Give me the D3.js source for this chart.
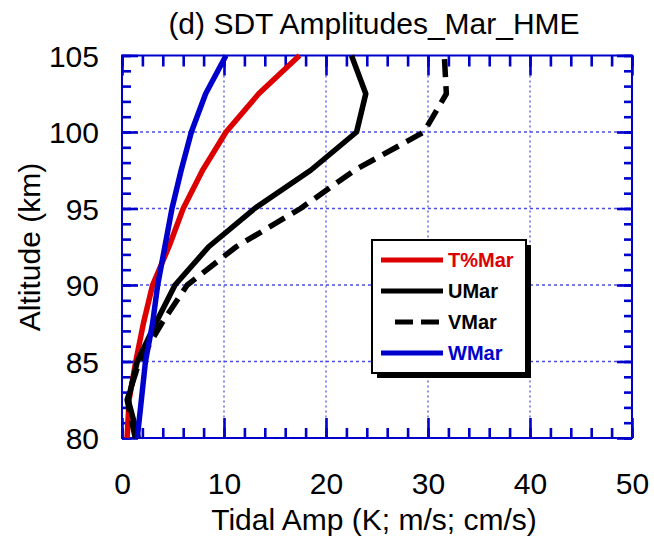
<!DOCTYPE html>
<html>
<head>
<meta charset="utf-8">
<script src="https://cdn.jsdelivr.net/npm/d3@7/dist/d3.min.js"></script>
<style>
  html, body { margin: 0; padding: 0; background: #fff; }
  svg { display: block; font-family: "Liberation Sans", Arial, Helvetica, sans-serif; }
</style>
</head>
<body>
<svg id="chart" width="654" height="542"></svg>
<script>
// Altitude levels (km) and SDT amplitudes for March
const altitude = [80, 82.5, 85, 87.5, 90, 92.5, 95, 97.5, 100, 102.5, 105];
const tPct = [0.5, 0.7, 1.35, 2.1, 3.0, 4.6, 6.0, 7.9, 10.2, 13.4, 17.4];   // T (%)
const uAmp = [1.6, 0.6, 1.5, 3.3, 5.2, 8.5, 13.0, 18.5, 23.0, 23.9, 22.5];  // U (m/s)
const vAmp = [1.3, 0.5, 1.7, 3.9, 6.4, 11.2, 17.5, 22.8, 29.6, 31.8, 31.6]; // V (m/s)
const wAmp = [1.5, 1.9, 2.3, 3.0, 3.5, 4.2, 4.9, 5.8, 6.8, 8.2, 10.2];     // W (cm/s)

const seriesNames = ["T%Mar", "UMar", "VMar", "WMar"];
const seriesValues = [tPct, uAmp, vAmp, wAmp];

const xMajorTicks = [0, 10, 20, 30, 40, 50];
const xMinorTicks = d3.range(0, 51, 2);
const yMajorTicks = [80, 85, 90, 95, 100, 105];
const yMinorTicks = d3.range(80, 106, 1);

const titleText = "(d) SDT Amplitudes_Mar_HME";
const xTitle = "Tidal Amp (K; m/s; cm/s)";
const yTitle = "Altitude (km)";

// Styling
const axisBlue = "#0000cc";
const gridBlue = "#3a3ae0";
const colors = { "T%Mar": "#dd0000", "UMar": "#000000", "VMar": "#000000", "WMar": "#0000cc" };
const dashes = { "T%Mar": null, "UMar": null, "VMar": "18,9", "WMar": null };
const fontSize = 30;

const svg = d3.select("#chart");
const plotLeft = 122, plotRight = 632, plotTop = 55.5, plotBottom = 438;

const x = d3.scaleLinear().domain([0, 50]).range([plotLeft, plotRight]);
const y = d3.scaleLinear().domain([80, 105]).range([plotBottom, plotTop]);

// Title
svg.append("text")
  .attr("x", 374).attr("y", 34)
  .attr("text-anchor", "middle")
  .attr("font-size", fontSize)
  .text(titleText);

// Dotted grid at major ticks
const grid = svg.append("g");
grid.selectAll("line.vg").data(xMajorTicks.slice(1, -1)).join("line")
  .attr("x1", d => x(d)).attr("x2", d => x(d))
  .attr("y1", plotTop).attr("y2", plotBottom)
  .attr("stroke", gridBlue).attr("stroke-width", 1.4)
  .attr("stroke-dasharray", "2,3").attr("opacity", 0.8);
grid.selectAll("line.hg").data(yMajorTicks.slice(1, -1)).join("line")
  .attr("x1", plotLeft).attr("x2", plotRight)
  .attr("y1", d => y(d)).attr("y2", d => y(d))
  .attr("stroke", gridBlue).attr("stroke-width", 1.4)
  .attr("stroke-dasharray", "3,3").attr("opacity", 0.9);

// Inward tick marks on all four sides, drawn with d3 axes
function tickAxis(axisFn, scale, values, size, transform) {
  const g = svg.append("g")
    .attr("transform", transform)
    .call(axisFn(scale).tickValues(values).tickSize(size).tickFormat(""));
  g.select(".domain").remove();
  g.selectAll(".tick line").attr("stroke", axisBlue).attr("stroke-width", 2.6);
  return g;
}
tickAxis(d3.axisBottom, x, xMinorTicks, -10, `translate(0,${plotBottom})`);
tickAxis(d3.axisBottom, x, xMajorTicks, -20, `translate(0,${plotBottom})`);
tickAxis(d3.axisTop, x, xMinorTicks, -11, `translate(0,${plotTop})`);
tickAxis(d3.axisTop, x, xMajorTicks, -20, `translate(0,${plotTop})`);
tickAxis(d3.axisLeft, y, yMinorTicks, -9, `translate(${plotLeft},0)`);
tickAxis(d3.axisLeft, y, yMajorTicks, -16, `translate(${plotLeft},0)`);
tickAxis(d3.axisRight, y, yMinorTicks, -8, `translate(${plotRight},0)`);
tickAxis(d3.axisRight, y, yMajorTicks, -15, `translate(${plotRight},0)`);

// Frame
svg.append("rect")
  .attr("x", plotLeft).attr("y", plotTop)
  .attr("width", plotRight - plotLeft).attr("height", plotBottom - plotTop)
  .attr("fill", "none").attr("stroke", axisBlue).attr("stroke-width", 2);

// Tick labels
const xLab = svg.append("g")
  .attr("transform", `translate(0,${plotBottom})`)
  .call(d3.axisBottom(x).tickValues(xMajorTicks).tickSize(0).tickPadding(0));
xLab.select(".domain").remove();
xLab.selectAll("text").attr("font-size", fontSize).attr("font-family", null)
  .attr("fill", "#000").attr("dy", null).attr("y", 56);

const yLab = svg.append("g")
  .attr("transform", `translate(${plotLeft},0)`)
  .call(d3.axisLeft(y).tickValues(yMajorTicks).tickSize(0).tickPadding(0));
yLab.select(".domain").remove();
yLab.selectAll("text").attr("font-size", fontSize).attr("font-family", null)
  .attr("fill", "#000").attr("x", -23).attr("dy", "0.36em");

// Axis titles
svg.append("text")
  .attr("x", 374).attr("y", 530)
  .attr("text-anchor", "middle").attr("font-size", fontSize)
  .text(xTitle);
svg.append("text")
  .attr("transform", "translate(40,247) rotate(-90)")
  .attr("text-anchor", "middle").attr("font-size", fontSize)
  .text(yTitle);

// Profiles
const line = d3.line()
  .x(d => x(d[0]))
  .y(d => y(d[1]));

seriesNames.forEach((name, i) => {
  const pts = seriesValues[i].map((v, k) => [v, altitude[k]]);
  svg.append("path")
    .datum(pts)
    .attr("d", line)
    .attr("fill", "none")
    .attr("stroke", colors[name])
    .attr("stroke-width", 5.5)
    .attr("stroke-linejoin", "round")
    .attr("stroke-dasharray", dashes[name]);
});

// Legend
const lg = svg.append("g");
const box = { x: 372, y: 240, w: 154, h: 133 };
lg.append("rect")
  .attr("x", box.x + 5).attr("y", box.y + 5)
  .attr("width", box.w).attr("height", box.h)
  .attr("fill", "#000");
lg.append("rect")
  .attr("x", box.x).attr("y", box.y)
  .attr("width", box.w).attr("height", box.h)
  .attr("fill", "#fff").attr("stroke", "#000").attr("stroke-width", 2);

const legendY = d3.scalePoint().domain(seriesNames).range([260, 353]);
seriesNames.forEach(name => {
  const yy = legendY(name);
  const dashed = dashes[name] !== null;
  lg.append("line")
    .attr("x1", dashed ? 395 : 381).attr("x2", dashed ? 439 : 443)
    .attr("y1", yy).attr("y2", yy)
    .attr("stroke", colors[name]).attr("stroke-width", 5)
    .attr("stroke-dasharray", dashed ? "18,8" : null);
  lg.append("text")
    .attr("x", 448).attr("y", yy).attr("dy", "0.36em")
    .attr("font-size", 20).attr("font-weight", "bold")
    .attr("fill", colors[name])
    .text(name);
});
</script>
</body>
</html>
